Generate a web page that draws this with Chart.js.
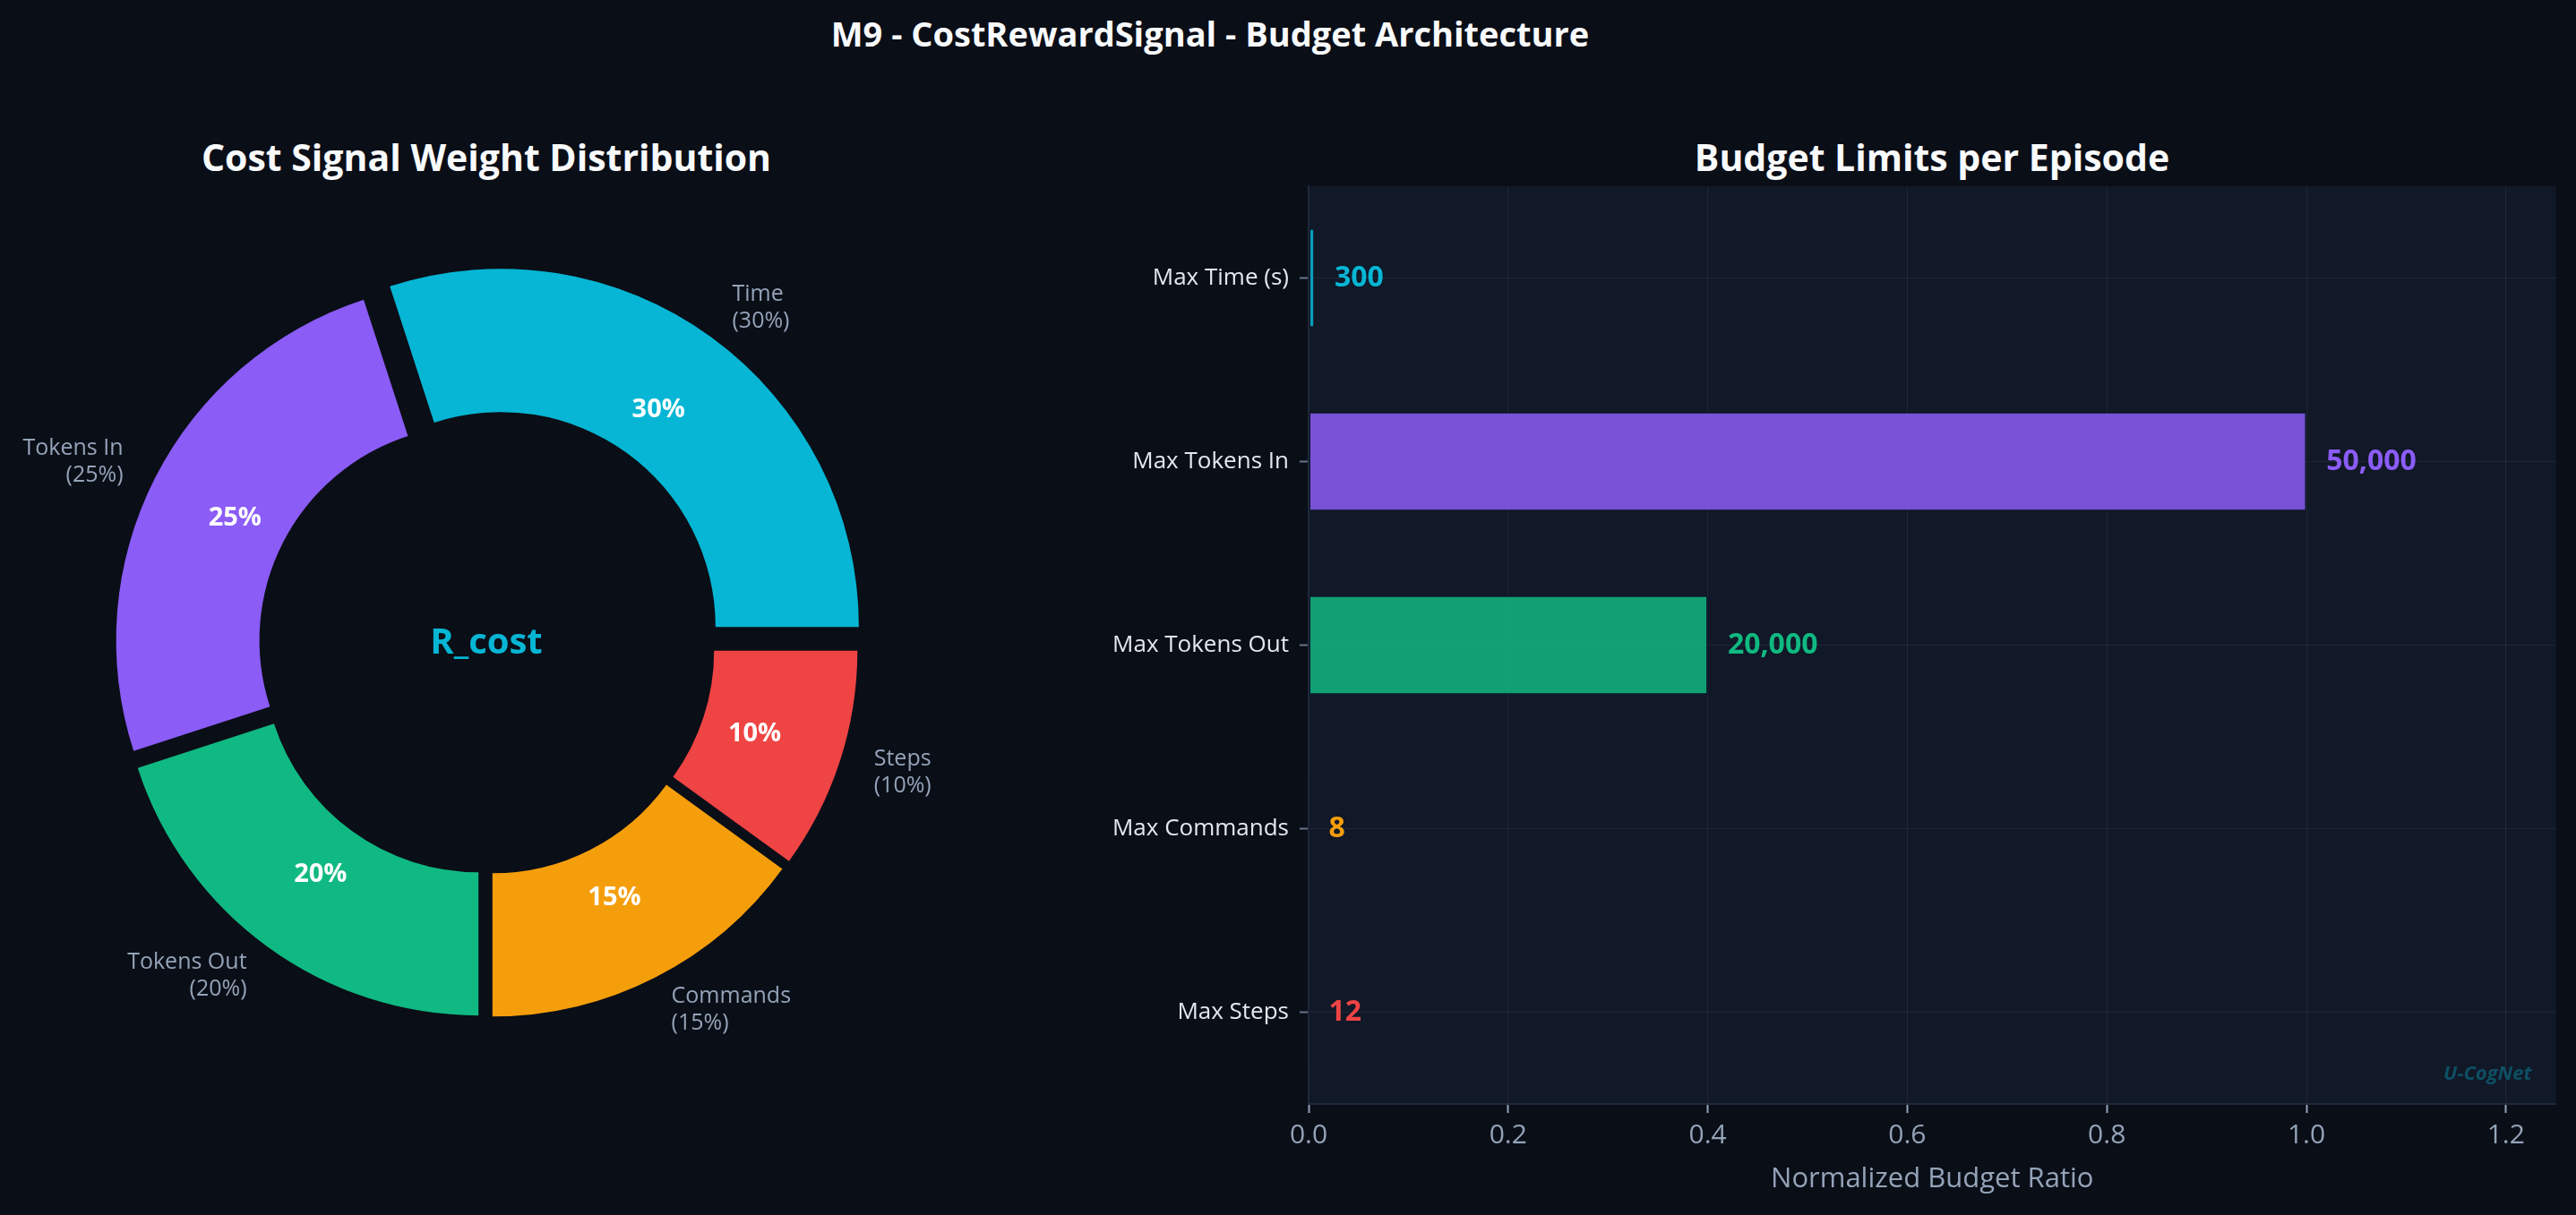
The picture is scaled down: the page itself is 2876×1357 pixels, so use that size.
<!DOCTYPE html>
<html>
<head>
<meta charset="utf-8">
<title>M9 - CostRewardSignal - Budget Architecture</title>
<script src="https://cdn.jsdelivr.net/npm/chart.js@4.4.1/dist/chart.umd.min.js"></script>
<style>
  html, body { margin: 0; padding: 0; background: #0a0e17; }
  body { width: 2876px; height: 1357px; position: relative; overflow: hidden; font-family: "Open Sans", sans-serif; }
  .ttl { position: absolute; color: #f8fafc; font-weight: 700; text-align: center; white-space: nowrap; line-height: 1; }
  canvas { position: absolute; }
</style>
</head>
<body>
<div class="ttl" style="left:851px;width:1000px;top:18px;font-size:38px;">M9 - CostRewardSignal - Budget Architecture</div>
<div class="ttl" style="left:43px;width:1000px;top:155px;font-size:41px;">Cost Signal Weight Distribution</div>
<div class="ttl" style="left:1657px;width:1000px;top:155px;font-size:41px;">Budget Limits per Episode</div>
<canvas id="pie" width="1086" height="1000" style="left:0;top:222px;"></canvas>
<canvas id="bars" width="1776" height="1207" style="left:1100px;top:150px;"></canvas>
<script>
// data
const weightLabels = ["Time", "Tokens In", "Tokens Out", "Commands", "Steps"];
const weightValues = [30, 25, 20, 15, 10];

const budgetLabels = ["Max Time (s)", "Max Tokens In", "Max Tokens Out", "Max Commands", "Max Steps"];
const budgetLimits = [300, 50000, 20000, 8, 12];
const budgetRatios = [0.006, 1.0, 0.4, 0.00016, 0.00024];
const xTicks = [0, 0.2, 0.4, 0.6, 0.8, 1.0, 1.2];

const palette = ["#06b6d4", "#8b5cf6", "#10b981", "#f59e0b", "#ef4444"];
const explodePx = [27, 15, 15, 15, 15];

// chart.js goes clockwise, matplotlib went counter-clockwise from 3 o'clock
const order = weightLabels.map((_, i) => i).reverse();

const explode = {
  id: "explode",
  beforeDatasetsDraw(chart) {
    chart.getDatasetMeta(0).data.forEach((arc, j) => {
      if (arc._exploded) return;
      const d = explodePx[order[j]];
      const base = arc.draw;
      arc.draw = function (ctx) {
        const mid = (this.startAngle + this.endAngle) / 2;
        ctx.save();
        ctx.translate(Math.cos(mid) * d, Math.sin(mid) * d);
        base.call(this, ctx);
        ctx.restore();
      };
      arc._exploded = true;
    });
  },
};

const pieText = {
  id: "pieText",
  afterDatasetsDraw(chart) {
    const ctx = chart.ctx;
    const arcs = chart.getDatasetMeta(0).data;
    ctx.save();
    ctx.textBaseline = "middle";
    arcs.forEach((arc, j) => {
      const i = order[j];
      const mid = (arc.startAngle + arc.endAngle) / 2;
      const c = Math.cos(mid), s = Math.sin(mid);
      const ex = arc.x + c * explodePx[i];
      const ey = arc.y + s * explodePx[i];
      const R = arc.outerRadius;

      const lx = ex + c * R * 1.1, ly = ey + s * R * 1.1;
      ctx.font = '25px "Open Sans"';
      ctx.fillStyle = "#94a3b8";
      ctx.textAlign = c > 0 ? "left" : "right";
      ctx.fillText(weightLabels[i], lx, ly - 15);
      ctx.fillText("(" + weightValues[i] + "%)", lx, ly + 15);

      ctx.font = 'bold 29px "Open Sans"';
      ctx.fillStyle = "#ffffff";
      ctx.textAlign = "center";
      ctx.fillText(weightValues[i] + "%", ex + c * R * 0.75, ey + s * R * 0.75);
    });
    const a0 = arcs[0];
    ctx.font = 'bold 40px "Open Sans"';
    ctx.fillStyle = "#06b6d4";
    ctx.textAlign = "center";
    ctx.fillText("R_cost", a0.x, a0.y - 3);
    ctx.restore();
  },
};

new Chart(document.getElementById("pie"), {
  type: "doughnut",
  data: {
    labels: order.map((i) => weightLabels[i]),
    datasets: [
      {
        data: order.map((i) => weightValues[i]),
        backgroundColor: order.map((i) => palette[i]),
        borderWidth: 0,
      },
    ],
  },
  options: {
    responsive: false,
    animation: false,
    radius: 400,
    cutout: "60%",
    rotation: 90,
    plugins: { legend: { display: false }, tooltip: { enabled: false } },
  },
  plugins: [explode, pieText],
});

const plotBg = {
  id: "plotBg",
  beforeDraw(chart) {
    const { ctx, chartArea: a } = chart;
    ctx.save();
    ctx.fillStyle = "#111827";
    ctx.fillRect(a.left, a.top, a.right - a.left, a.bottom - a.top);
    ctx.restore();
  },
};

const barText = {
  id: "barText",
  afterDatasetsDraw(chart) {
    const { ctx, chartArea: a } = chart;
    const x = chart.scales.x;
    ctx.save();
    ctx.font = 'bold 32px "Open Sans"';
    ctx.textAlign = "left";
    ctx.textBaseline = "middle";
    chart.getDatasetMeta(0).data.forEach((bar, i) => {
      ctx.fillStyle = palette[i];
      ctx.fillText(budgetLimits[i].toLocaleString("en-US"), x.getPixelForValue(budgetRatios[i] + 0.02), bar.y);
    });
    ctx.font = 'italic bold 22px "Open Sans"';
    ctx.fillStyle = "rgba(6,182,212,0.35)";
    ctx.textAlign = "right";
    ctx.fillText("U-CogNet", a.right - 27, a.bottom - 33);
    ctx.restore();
  },
};

const gridCol = "rgba(148,163,184,0.1)";

new Chart(document.getElementById("bars"), {
  type: "bar",
  data: {
    labels: budgetLabels,
    datasets: [
      {
        data: budgetRatios,
        backgroundColor: palette.map((c) => c + "d9"),
        borderColor: "#0f172a",
        borderWidth: 1.5,
        borderSkipped: false,
        barPercentage: 0.54,
        categoryPercentage: 1,
      },
    ],
  },
  options: {
    indexAxis: "y",
    responsive: false,
    animation: false,
    layout: { padding: { top: 58, right: 22.5, left: 0, bottom: 0 } },
    plugins: { legend: { display: false }, tooltip: { enabled: false } },
    scales: {
      x: {
        min: 0,
        max: 1.25,
        afterFit: (s) => { s.height = 124; },
        afterBuildTicks: (s) => { s.ticks = xTicks.map((v) => ({ value: v })); },
        grid: { color: gridCol, lineWidth: 1, tickColor: "#94a3b8", tickLength: 10, tickWidth: 2 },
        border: { display: true, color: "#1e293b", width: 2 },
        ticks: {
          color: "#94a3b8",
          font: { family: "Open Sans", size: 30 },
          padding: 7,
          callback: (v) => Number(v).toFixed(1),
        },
        title: {
          display: true,
          text: "Normalized Budget Ratio",
          color: "#94a3b8",
          font: { family: "Open Sans", size: 31 },
          padding: { top: 0, bottom: 21 },
        },
      },
      y: {
        afterFit: (s) => { s.width = 361; },
        grid: { offset: false, color: gridCol, lineWidth: 1, tickColor: "#64748b", tickLength: 10, tickWidth: 2 },
        border: { display: true, color: "#1e293b", width: 2 },
        ticks: { color: "#e2e8f0", font: { family: "Open Sans", size: 26 }, padding: 12 },
      },
    },
  },
  plugins: [plotBg, barText],
});
</script>
</body>
</html>
